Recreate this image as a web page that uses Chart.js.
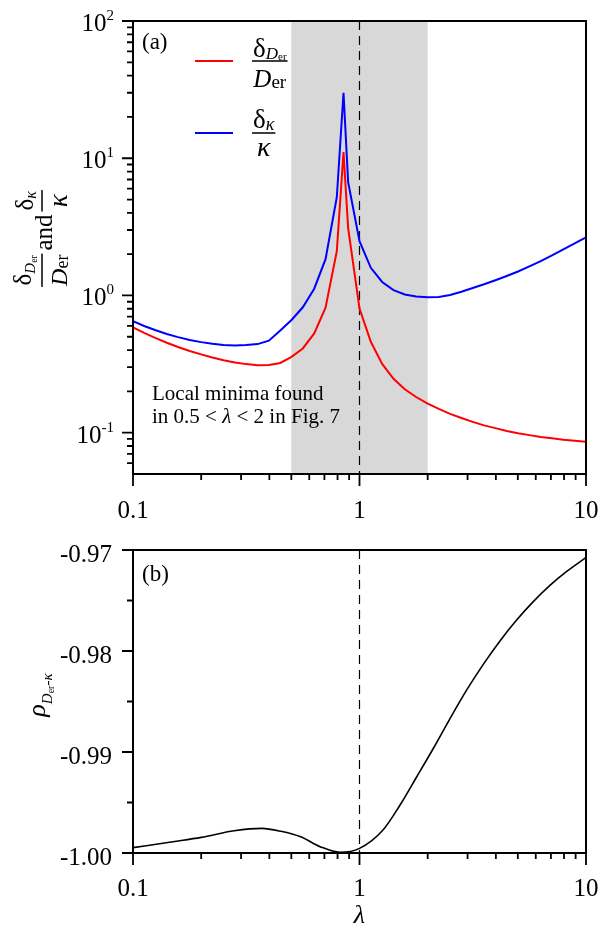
<!DOCTYPE html>
<html>
<head>
<meta charset="utf-8">
<script src="https://cdn.jsdelivr.net/npm/chart.js@4/dist/chart.umd.min.js"></script>
<style>
  html, body { margin: 0; padding: 0; background: #fff; }
  #wrap { position: relative; width: 602px; height: 930px; }
  canvas { position: absolute; left: 0; }
  #top { top: 0; width: 602px; height: 530px; }
  #bot { top: 530px; width: 602px; height: 400px; }
</style>
</head>
<body>
<div id="wrap">
  <canvas id="top" width="602" height="530"></canvas>
  <canvas id="bot" width="602" height="400"></canvas>
</div>
<script>
// ---- data -------------------------------------------------------------
// (a) relative uncertainties versus lambda
const lambdaA = [0.1, 0.112, 0.126, 0.141, 0.158, 0.178, 0.2, 0.224, 0.251, 0.282, 0.316, 0.355, 0.398, 0.447, 0.501,
                 0.562, 0.631, 0.708, 0.794, 0.85, 0.891, 1.0,
                 1.122, 1.259, 1.413, 1.585, 1.778, 2.0, 2.239, 2.512, 2.818, 3.162, 3.548, 3.981, 4.467, 5.012,
                 5.623, 6.31, 7.079, 7.943, 8.913, 10];
const relErrD = [0.585, 0.533, 0.489, 0.452, 0.421, 0.394, 0.372, 0.353, 0.337, 0.325, 0.316, 0.310, 0.311, 0.322, 0.357,
                 0.411, 0.529, 0.814, 2.1, 11.1, 3.1, 0.804,
                 0.460, 0.317, 0.247, 0.207, 0.182, 0.163, 0.149, 0.137, 0.128, 0.120, 0.113, 0.108, 0.103, 0.099,
                 0.096, 0.093, 0.091, 0.089, 0.0875, 0.086];
const relErrK = [0.650, 0.599, 0.558, 0.524, 0.497, 0.474, 0.457, 0.444, 0.436, 0.432, 0.435, 0.442, 0.468, 0.556, 0.663,
                 0.82, 1.12, 1.84, 5.2, 30, 6.7, 2.49,
                 1.59, 1.254, 1.093, 1.017, 0.983, 0.972, 0.975, 1.008, 1.064, 1.134, 1.207, 1.292, 1.387, 1.496,
                 1.627, 1.778, 1.956, 2.163, 2.392, 2.654];

// (b) correlation coefficient versus lambda
const lambdaB = [0.1, 0.15, 0.2, 0.28, 0.37, 0.45, 0.55, 0.67, 0.82, 1.0, 1.27, 1.51, 1.79,
                 2.12, 2.51, 2.97, 3.52, 4.17, 4.94, 5.85, 6.93, 8.22, 10];
const corrDK  = [-0.99947, -0.99888, -0.99845, -0.99780, -0.99756, -0.99785, -0.99840, -0.99937, -0.99993,
                 -0.99954, -0.99772, -0.99525, -0.99245,
                 -0.98963, -0.98669, -0.98388, -0.98132, -0.97900, -0.97693, -0.97511, -0.97350, -0.97212, -0.97074];

// axes
const xMajor   = [0.1, 1, 10];
const yMajorA  = [0.1, 1, 10, 100];
const yExpA    = ['-1', '0', '1', '2'];
const yMajorB  = [-1.00, -0.99, -0.98, -0.97];
const yMinorB  = [-0.995, -0.985, -0.975];
const shadeRange = [0.5, 2];
const guideX = 1;

// ---- drawing helpers ----------------------------------------------------
const FAMILY = '"Liberation Serif", "Times New Roman", serif';
const font = (size, italic) => (italic ? 'italic ' : '') + size + 'px ' + FAMILY;

function logMinors(min, max) {
  const out = [];
  for (let e = Math.floor(Math.log10(min)); e <= Math.ceil(Math.log10(max)); e++) {
    for (let k = 2; k <= 9; k++) {
      const v = k * Math.pow(10, e);
      if (v > min * 1.0001 && v < max * 0.9999) out.push(v);
    }
  }
  return out;
}

function runsWidth(ctx, runs) {
  let w = 0;
  for (const r of runs) { ctx.font = font(r.s, r.i); w += ctx.measureText(r.t).width + (r.kx || 0); }
  return w;
}
function drawRuns(ctx, runs, x, y) {
  for (const r of runs) {
    ctx.font = font(r.s, r.i);
    ctx.fillText(r.t, x, y + (r.dy || 0));
    x += ctx.measureText(r.t).width + (r.kx || 0);
  }
  return x;
}
function fracWidth(ctx, f) {
  return Math.max(runsWidth(ctx, f.num), runsWidth(ctx, f.den)) + (f.pad || 2);
}
function drawFrac(ctx, f, x, barY) {
  const wn = runsWidth(ctx, f.num), wd = runsWidth(ctx, f.den);
  const w = Math.max(wn, wd) + (f.pad || 2);
  ctx.textAlign = 'left';
  ctx.textBaseline = 'alphabetic';
  drawRuns(ctx, f.num, x + (w - wn) / 2, barY + f.numDy);
  drawRuns(ctx, f.den, x + (w - wd) / 2, barY + f.denDy);
  ctx.fillRect(x, barY - 0.75, w, 1.5);
  return w;
}

// fraction labels
const legFracD = {
  num: [{ t: 'δ', s: 27 }, { t: 'D', s: 17, i: true, dy: 2 }, { t: 'er', s: 11, dy: 3 }],
  den: [{ t: 'D', s: 25, i: true }, { t: 'er', s: 19, dy: 1 }],
  numDy: -4, denDy: 26, pad: 2
};
const legFracK = {
  num: [{ t: 'δ', s: 27 }, { t: 'κ', s: 18, i: true, dy: 2 }],
  den: [{ t: 'κ', s: 28, i: true }],
  numDy: -5, denDy: 23, pad: 2
};
const titleFracD = {
  num: [{ t: 'δ', s: 25 }, { t: 'D', s: 15, i: true, dy: 4 }, { t: 'er', s: 10, dy: 6 }],
  den: [{ t: 'D', s: 24, i: true }, { t: 'er', s: 18, dy: 1 }],
  numDy: -11, denDy: 25, pad: 2
};
const titleFracK = {
  num: [{ t: 'δ', s: 25 }, { t: 'κ', s: 16, i: true, dy: 3 }],
  den: [{ t: 'κ', s: 27, i: true }],
  numDy: -9, denDy: 25, pad: 2
};

// frame, outward ticks, tick labels on the lambda axis, shaded band and dashed guide
function makeDecor(cfg) {
  return {
    id: 'decor',
    beforeDatasetsDraw(chart) {
      const { ctx, chartArea: a, scales: { x } } = chart;
      ctx.save();
      if (cfg.shade) {
        const x0 = x.getPixelForValue(cfg.shade[0]);
        const x1 = x.getPixelForValue(cfg.shade[1]);
        ctx.fillStyle = '#d8d8d8';
        ctx.fillRect(x0, a.top, x1 - x0, a.bottom - a.top);
      }
      const gx = x.getPixelForValue(guideX);
      ctx.strokeStyle = '#000';
      ctx.lineWidth = 1.2;
      ctx.setLineDash([9, 6]);
      ctx.beginPath();
      ctx.moveTo(gx, a.top);
      ctx.lineTo(gx, a.bottom);
      ctx.stroke();
      ctx.restore();
    },
    afterDraw(chart) {
      const { ctx, chartArea: a, scales: { x, y } } = chart;
      ctx.save();
      ctx.strokeStyle = '#000';
      ctx.fillStyle = '#000';
      ctx.lineWidth = 2;
      ctx.strokeRect(a.left, a.top, a.right - a.left, a.bottom - a.top);

      ctx.lineWidth = 1.8;
      ctx.beginPath();
      for (const v of xMajor) {
        const p = x.getPixelForValue(v);
        ctx.moveTo(p, a.bottom); ctx.lineTo(p, a.bottom + 12);
      }
      for (const v of logMinors(x.min, x.max)) {
        const p = x.getPixelForValue(v);
        ctx.moveTo(p, a.bottom); ctx.lineTo(p, a.bottom + 6);
      }
      for (const v of cfg.yMajor) {
        const p = y.getPixelForValue(v);
        ctx.moveTo(a.left - 11, p); ctx.lineTo(a.left, p);
      }
      for (const v of cfg.yMinor) {
        const p = y.getPixelForValue(v);
        ctx.moveTo(a.left - 6, p); ctx.lineTo(a.left, p);
      }
      ctx.stroke();

      ctx.font = font(25);
      ctx.textAlign = 'center';
      ctx.textBaseline = 'alphabetic';
      for (const v of xMajor) ctx.fillText(String(v), x.getPixelForValue(v), a.bottom + cfg.xLabelDy);

      cfg.extra(chart, ctx);
      ctx.restore();
    }
  };
}

const plainScale = (extra) => Object.assign({
  grid: { display: false, drawTicks: false }, border: { display: false }, ticks: { display: false }
}, extra);

// ---- (a) ----------------------------------------------------------------
new Chart(document.getElementById('top'), {
  type: 'line',
  data: {
    datasets: [
      { label: 'δD/D', data: lambdaA.map((l, i) => ({ x: l, y: relErrD[i] })),
        borderColor: '#ff0000', borderWidth: 2, pointRadius: 0, tension: 0, fill: false },
      { label: 'δκ/κ', data: lambdaA.map((l, i) => ({ x: l, y: relErrK[i] })),
        borderColor: '#0000ff', borderWidth: 2, pointRadius: 0, tension: 0, fill: false }
    ]
  },
  options: {
    responsive: false, animation: false, events: [],
    layout: { padding: { top: 21, right: 16, bottom: 0, left: 0 } },
    plugins: { legend: { display: false }, tooltip: { enabled: false } },
    scales: {
      x: plainScale({ type: 'logarithmic', min: 0.1, max: 10, afterFit: s => { s.height = 56; } }),
      y: plainScale({ type: 'logarithmic', min: 0.05, max: 100, afterFit: s => { s.width = 133; } })
    }
  },
  plugins: [makeDecor({
    shade: shadeRange,
    yMajor: yMajorA,
    yMinor: logMinors(0.05, 100),
    xLabelDy: 44,
    extra(chart, ctx) {
      const { scales: { y } } = chart;
      ctx.textAlign = 'left';
      ctx.textBaseline = 'alphabetic';
      // decade labels with superscript exponents
      yMajorA.forEach((v, i) => {
        const p = y.getPixelForValue(v);
        ctx.font = font(15);
        const we = ctx.measureText(yExpA[i]).width;
        ctx.font = font(25);
        const wb = ctx.measureText('10').width;
        const right = 114;
        ctx.fillText('10', right - we - wb, p + 10);
        ctx.font = font(15);
        ctx.fillText(yExpA[i], right - we, p - 1);
      });
      // panel tag
      ctx.font = font(23);
      ctx.fillText('(a)', 142, 49);
      // note about the shaded band
      ctx.font = font(21);
      ctx.fillText('Local minima found', 152, 400);
      drawRuns(ctx, [{ t: 'in 0.5 < ', s: 21 }, { t: 'λ', s: 21, i: true }, { t: ' < 2 in Fig. 7', s: 21 }], 152, 423);
      // legend
      const ds = chart.data.datasets;
      ctx.lineWidth = 2;
      ctx.strokeStyle = ds[0].borderColor;
      ctx.beginPath(); ctx.moveTo(195, 61); ctx.lineTo(233, 61); ctx.stroke();
      ctx.strokeStyle = ds[1].borderColor;
      ctx.beginPath(); ctx.moveTo(195, 133); ctx.lineTo(233, 133); ctx.stroke();
      drawFrac(ctx, legFracD, 252, 61);
      drawFrac(ctx, legFracK, 252, 133);
      // rotated axis title
      ctx.save();
      ctx.translate(42, 238.5);
      ctx.rotate(-Math.PI / 2);
      ctx.font = font(25);
      const wAnd = ctx.measureText('and').width;
      const w1 = fracWidth(ctx, titleFracD), w2 = fracWidth(ctx, titleFracK);
      const gap = 3;
      let xx = -(w1 + wAnd + w2 + 2 * gap) / 2;
      drawFrac(ctx, titleFracD, xx, 0);
      xx += w1 + gap;
      ctx.font = font(25);
      ctx.fillText('and', xx, 10);
      xx += wAnd + gap;
      drawFrac(ctx, titleFracK, xx, 0);
      ctx.restore();
    }
  })]
});

// ---- (b) ----------------------------------------------------------------
new Chart(document.getElementById('bot'), {
  type: 'line',
  data: {
    datasets: [
      { label: 'ρ', data: lambdaB.map((l, i) => ({ x: l, y: corrDK[i] })),
        borderColor: '#000', borderWidth: 1.6, pointRadius: 0,
        cubicInterpolationMode: 'monotone', fill: false }
    ]
  },
  options: {
    responsive: false, animation: false, events: [],
    layout: { padding: { top: 20, right: 16, bottom: 0, left: 0 } },
    plugins: { legend: { display: false }, tooltip: { enabled: false } },
    scales: {
      x: plainScale({ type: 'logarithmic', min: 0.1, max: 10, afterFit: s => { s.height = 77; } }),
      y: plainScale({ type: 'linear', min: -1.0, max: -0.97, afterFit: s => { s.width = 133; } })
    }
  },
  plugins: [makeDecor({
    shade: null,
    yMajor: yMajorB,
    yMinor: yMinorB,
    xLabelDy: 43,
    extra(chart, ctx) {
      const { chartArea: a, scales: { y } } = chart;
      // correlation tick labels
      ctx.font = font(25);
      ctx.textAlign = 'right';
      ctx.textBaseline = 'alphabetic';
      for (const v of yMajorB) ctx.fillText(v.toFixed(2), 112, y.getPixelForValue(v) + 11.5);
      ctx.textAlign = 'left';
      ctx.font = font(23);
      ctx.fillText('(b)', 142, 51);
      // x title
      ctx.font = font(26, true);
      ctx.textAlign = 'center';
      ctx.fillText('λ', (a.left + a.right) / 2, 393);
      ctx.textAlign = 'left';
      // rotated y title
      ctx.save();
      ctx.translate(0, 165);
      ctx.rotate(-Math.PI / 2);
      const runs = [{ t: 'ρ', s: 26, i: true }, { t: 'D', s: 15, i: true, dy: 7 },
                    { t: 'er', s: 10, dy: 9 }, { t: '-', s: 15, dy: 7 }, { t: 'κ', s: 15, i: true, dy: 7 }];
      const w = runsWidth(ctx, runs);
      drawRuns(ctx, runs, -w / 2, 45);
      ctx.restore();
    }
  })]
});
</script>
</body>
</html>
